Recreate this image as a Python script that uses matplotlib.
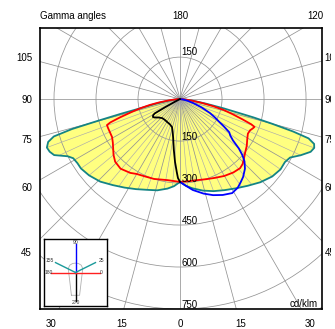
import numpy as np
import matplotlib
matplotlib.use("Agg")
import matplotlib.pyplot as plt
from matplotlib.projections.polar import PolarTransform
from matplotlib.patches import Circle
from matplotlib.transforms import Bbox, TransformedBbox

plt.rcParams['font.family'] = ['Liberation Sans', 'DejaVu Sans']

# luminous intensity, cd/klm, against gamma angle (0 = straight down)
# C25 plane (right) and C155 plane (left): yellow area
gam_c25 = [0, 4, 8, 14, 20, 26, 32, 38, 44, 50, 55, 59, 62, 65, 68, 70, 71.5, 73, 74, 75, 76, 78, 80, 83, 86, 90]
cd_c25 = [296, 311, 322, 337, 350, 362, 376, 393, 413, 430, 438, 437, 445, 475, 503, 510, 505, 480, 420, 340, 270, 160, 95, 45, 18, 0]
gam_c155 = [0, 4, 8, 14, 20, 26, 32, 38, 44, 50, 55, 58, 61, 63, 66, 68, 70, 72, 73.5, 74.5, 75.2, 76, 77, 79, 82, 86, 90]
cd_c155 = [296, 312, 323, 336, 345, 358, 373, 390, 410, 424, 432, 432, 436, 450, 492, 502, 506, 495, 470, 400, 300, 220, 145, 90, 45, 18, 0]

# C0 plane (right) and C180 plane (left): red
gam_c0 = [0, 6, 12, 18, 24, 30, 36, 41, 44, 47, 51, 55, 59, 63, 66, 68, 69.5, 70.5, 72, 74, 76, 78, 80, 83, 86, 90]
cd_c0 = [296, 295, 296, 301, 308, 317, 324, 327, 322, 312, 300, 291, 280, 272, 274, 280, 284, 270, 235, 195, 160, 120, 80, 40, 15, 0]
gam_c180 = [0, 9, 18, 24, 30, 34, 40.5, 46, 50, 53.8, 57, 60.8, 64, 68, 70.4, 71.5, 73, 75, 77, 79, 81, 84, 87, 90]
cd_c180 = [296, 293, 300, 303, 309, 318, 327, 322, 310, 296, 286, 278, 277, 277, 277, 262, 225, 180, 145, 110, 75, 35, 12, 0]

# C90 plane (right): blue, C270 plane (left): black
gam_c90 = [0, 3, 8, 14, 19, 24, 29, 33, 36, 39, 43, 46, 48, 50, 52, 54, 56, 58, 60, 62, 65, 69, 73, 77, 82, 90]
cd_c90 = [296, 307, 328, 348, 363, 375, 384, 378, 368, 358, 340, 320, 300, 274, 240, 222, 212, 185, 160, 143, 118, 82, 50, 28, 12, 0]
gam_c270 = [0, 1.5, 2.5, 4.5, 7, 10, 13, 16, 22, 29, 36, 43, 50, 54, 56.5, 59, 60.5, 61.5, 62.5, 65, 75, 90]
cd_c270 = [296, 282, 262, 226, 182, 141, 118, 104, 97, 94, 92, 93, 102, 112, 116, 112, 104, 60, 20, 5, 1, 0]

rings = [150, 300, 450, 600, 750, 900, 1050]
ring_labels_down = [150, 300, 450, 600, 750]
side_labels = ['105', '90', '75', '60', '45']
bottom_labels = ['30', '15', '0', '15', '30']

# small legend of the C planes
legend_planes = [90, 270, 0, 180, 25, 155]
legend_colors = ['#0000ff', '#000000', '#ff2020', '#ff2020', '#1a9a9a', '#1a9a9a']
legend_len = [0.84, 0.86, 0.78, 0.78, 0.7, 0.7]
lum_x = [-0.13, -0.23, -0.18, -0.09, 0.0, 0.09, 0.18, 0.23, 0.13, -0.13]
lum_y = [-0.68, 0.12, 0.22, 0.27, 0.28, 0.27, 0.22, 0.12, -0.68, -0.68]


def right(g):
    return np.deg2rad(np.array(g) - 90.0)


def left(g):
    return np.deg2rad(-90.0 - np.array(g))


fig = plt.figure(figsize=(3.35, 3.29), dpi=100)
ax = fig.add_axes([40 / 335, 20 / 329, 282 / 335, 281 / 329])
polar = PolarTransform(apply_theta_transforms=False) + ax.transData

# yellow area
th_fill = np.concatenate([left(gam_c155)[::-1], right(gam_c25)])
r_fill = np.concatenate([np.array(cd_c155)[::-1], cd_c25])
area = ax.fill(th_fill, r_fill, transform=polar, facecolor='#ffff80', edgecolor='none', zorder=1)[0]

# grid
for r in rings:
    ax.add_patch(Circle((0, 0), r, fill=False, ec='#939393', lw=0.55, zorder=2))
for a in range(0, 360, 5):
    ln, = ax.plot([np.deg2rad(a)] * 2, [0, 1400], transform=polar, zorder=2,
                  color='#939393' if a % 15 == 0 else '#ababab',
                  lw=0.55 if a % 15 == 0 else 0.45)
    if a % 15:
        ln.set_clip_path(area)

# curves
ax.plot(th_fill, r_fill, transform=polar, color='#148484', lw=1.3, zorder=3)
ax.plot(np.concatenate([left(gam_c180)[::-1], right(gam_c0)]),
        np.concatenate([np.array(cd_c180)[::-1], cd_c0]),
        transform=polar, color='#ff0000', lw=1.3, zorder=4)
ax.plot(right(gam_c90), cd_c90, transform=polar, color='#0000ff', lw=1.3, zorder=4)
ax.plot(left(gam_c270), cd_c270, transform=polar, color='#000000', lw=1.3, zorder=4)

ax.set_xlim(-500, 507)
ax.set_ylim(-750, 254)
ax.set_xticks([])
ax.set_yticks([])
for s in ax.spines.values():
    s.set_linewidth(1.2)

fs = 7
ax.text(6, 156, '150', fontsize=fs, ha='left', va='baseline', zorder=5)
for r in ring_labels_down:
    ax.text(6, -r + 4, str(r), fontsize=fs, ha='left', va='baseline', zorder=5)
ax.text(493, -743, 'cd/klm', fontsize=fs, ha='right', va='baseline', zorder=5)


# angle labels around the box
def ftext(x, y, s, **kw):
    return fig.text(x / 335, 1 - y / 329, s, fontsize=fs, va='center', **kw)


ftext(40, 16, 'Gamma angles', ha='left')
ftext(180, 16, '180', ha='center')
ftext(323, 16, '120', ha='right')
cut = TransformedBbox(Bbox([[0, 0], [330.5 / 335, 1]]), fig.transFigure)
for s, y in zip(side_labels, [58, 100, 140, 188, 253]):
    ftext(32, y, s, ha='right')
    t = ftext(324.5, y, s, ha='left')
    t.set_clip_box(cut)
    t.set_clip_on(True)
for s, x in zip(bottom_labels, [51, 122, 180.5, 241, 310]):
    ftext(x, 324, s, ha='center')

# inset with the C planes
axin = fig.add_axes([44 / 335, 23 / 329, 63 / 335, 67 / 329])
axin.set_xlim(-1, 1)
axin.set_ylim(-1, 1)
axin.set_xticks([])
axin.set_yticks([])
for s in axin.spines.values():
    s.set_linewidth(1.0)
pin = PolarTransform(apply_theta_transforms=False) + axin.transData
axin.plot(lum_x, lum_y, color='#b0b0b0', lw=0.6)
for p, c, L in zip(legend_planes, legend_colors, legend_len):
    axin.plot([np.deg2rad(p)] * 2, [0, L], transform=pin, color=c, lw=1.0)
small = dict(fontsize=3.6, color='#333333', ha='center', va='center')
axin.text(0, 0.91, '90', **small)
axin.text(0, -0.91, '270', **small)
axin.text(-0.84, 0, '180', **small)
axin.text(0.83, 0, '0', **small)
axin.text(-0.81, 0.37, '155', **small)
axin.text(0.81, 0.37, '25', **small)

fig.savefig('out.png', dpi=100)
